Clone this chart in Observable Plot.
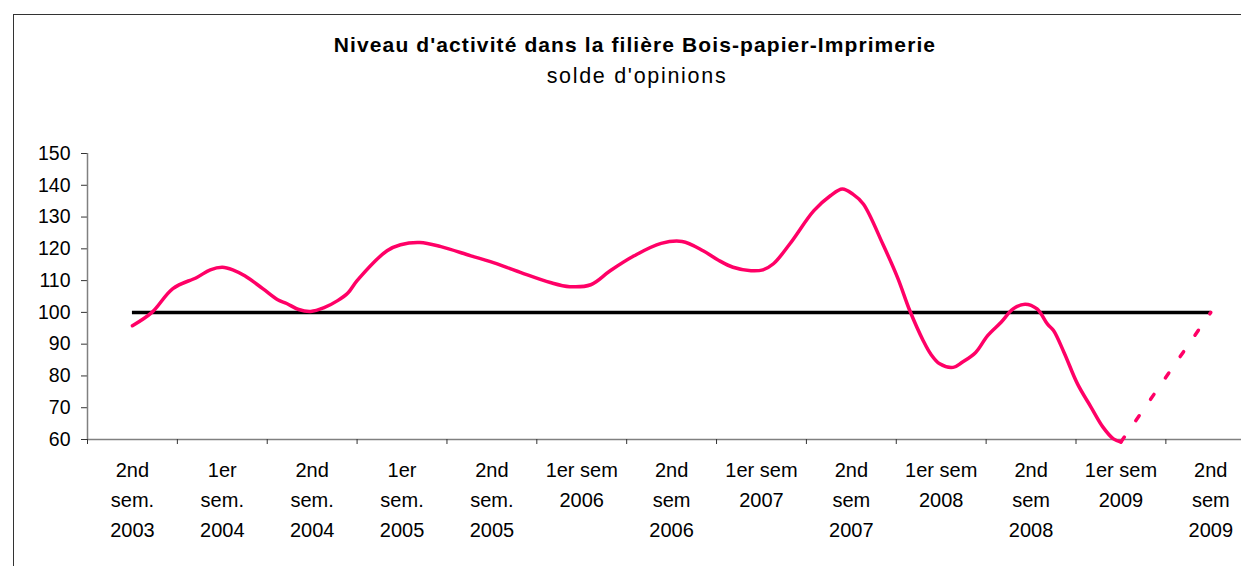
<!DOCTYPE html>
<html>
<head>
<meta charset="utf-8">
<script src="https://cdn.jsdelivr.net/npm/d3@7"></script>
<script src="https://cdn.jsdelivr.net/npm/@observablehq/plot@0.6"></script>
<style>
  html, body { margin: 0; padding: 0; background: #fff; overflow: hidden; }
  body { width: 1241px; height: 566px; position: relative; font-family: "Liberation Sans", Arial, sans-serif; }
  #frame { position: absolute; left: 13px; top: 14px; width: 1240px; height: 560px; border-left: 1px solid #333; border-top: 1px solid #333; }
  #title { position: absolute; left: 0; width: 1270px; top: 33px; text-align: center; font-weight: bold; font-size: 21px; letter-spacing: 1.1px; color: #000; }
  #subtitle { position: absolute; left: 0; width: 1274px; top: 64px; text-align: center; font-size: 21.5px; letter-spacing: 1.7px; color: #000; }
  #chart { position: absolute; left: 0; top: 0; }
</style>
</head>
<body>
<div id="frame"></div>
<div id="title">Niveau d'activité dans la filière Bois-papier-Imprimerie</div>
<div id="subtitle">solde d'opinions</div>
<div id="chart"></div>
<script>
// Categories (semesters); each semester spans 6 months, category centre = month index
const categoryLabels = [
  "2nd\nsem.\n2003", "1er\nsem.\n2004", "2nd\nsem.\n2004", "1er\nsem.\n2005",
  "2nd\nsem.\n2005", "1er sem\n2006", "2nd\nsem\n2006", "1er sem\n2007",
  "2nd\nsem\n2007", "1er sem\n2008", "2nd\nsem\n2008", "1er sem\n2009", "2nd\nsem\n2009"
];
const categoryMonths = [0, 6, 12, 18, 24, 30, 36, 42, 48, 54, 60, 66, 72];
const boundaryMonths = [-3, 3, 9, 15, 21, 27, 33, 39, 45, 51, 57, 63, 69];
const yTicks = [60, 70, 80, 90, 100, 110, 120, 130, 140, 150];
const referenceLevel = 100;

// Observed activity level (month offset from 2nd sem. 2003, value)
const obsMonths = [0, 1.3, 2.7, 4.3, 5.2, 6.0, 6.7, 7.5, 8.7, 9.7, 10.3, 11.1, 11.9, 12.8, 13.7, 14.4, 15.0, 17.0, 17.9,
  19.2, 20.6, 22.6, 23.9, 25.9, 27.9, 29.2, 30.6, 31.9, 33.5, 35.3, 36.7, 38.1, 39.1, 40.1, 41.3, 42.1, 42.8, 43.9,
  45.5, 46.6, 47.4, 48.1, 48.8, 50.1, 51.1, 51.9, 52.8, 53.3, 53.9, 54.8, 55.4, 56.3, 57.1, 58.0, 58.8, 59.6, 60.4,
  61.1, 61.5, 62.2, 63.1, 64.0, 64.8, 65.5, 66.0];
const obsValues = [95.8, 100, 107.5, 111, 113.4, 114.2, 113.4, 111.5, 107.5, 104, 102.8, 100.9, 100.3, 101.5, 103.7, 106.2, 110, 119.4, 121.3,
  122, 120.7, 117.8, 116, 112.6, 109.4, 108.1, 108.7, 113.1, 117.8, 121.7, 122.3, 119.4, 116.5, 114.2, 113.1, 113.4, 115.3, 121.6,
  132, 136.7, 138.8, 137.2, 134.1, 121.5, 110.8, 100.6, 91.1, 86.9, 83.8, 82.7, 84.3, 87.4, 92.7, 96.9, 101.1, 102.6, 101.1,
  96.3, 94.3, 87.4, 77.5, 70.2, 63.9, 60.2, 59.2];

// Forecast (dotted)
const forecastMonths = [66, 72];
const forecastValues = [59.2, 100];

const obs = obsMonths.map((m, i) => ({m, v: obsValues[i]}));
const fc = forecastMonths.map((m, i) => ({m, v: forecastValues[i]}));
const cats = categoryMonths.map((m, i) => ({m, label: categoryLabels[i]}));

const pink = "#FF0066";

const chart = Plot.plot({
  width: 1241,
  height: 566,
  marginLeft: 87,
  marginRight: 0,
  marginTop: 153,
  marginBottom: 127,
  style: {fontFamily: "'Liberation Sans', Arial, sans-serif", fontSize: "19px", color: "#000", background: "transparent"},
  x: {type: "linear", domain: [boundaryMonths[0], 74.05], axis: null, label: null},
  y: {type: "linear", domain: [yTicks[0], yTicks[yTicks.length - 1]], axis: null, label: null},
  marks: [
    // y axis
    Plot.axisY({ticks: yTicks, tickSize: 6, tickPadding: 11, tickFormat: d => d, fontSize: 19.5, stroke: "#333", label: null}),
    Plot.ruleX([boundaryMonths[0]], {stroke: "#808080", strokeWidth: 1.5}),
    // x axis line and tick marks
    Plot.ruleY([yTicks[0]], {stroke: "#808080", strokeWidth: 1.5}),
    Plot.axisX({ticks: boundaryMonths, tickSize: 5, tickFormat: () => "", stroke: "#333", label: null}),
    // category labels
    Plot.text(cats, {x: "m", text: "label", frameAnchor: "bottom", dy: 15.8, lineAnchor: "top", lineHeight: 1.5, fontSize: 20, fill: "#000", style: "letter-spacing:0.4px"}),
    // reference line at 100
    Plot.ruleY([referenceLevel], {x1: categoryMonths[0], x2: categoryMonths[categoryMonths.length - 1], stroke: "#000", strokeWidth: 3.5}),
    // observed series
    Plot.line(obs, {x: "m", y: "v", stroke: pink, strokeWidth: 3.5, curve: "catmull-rom"}),
    // forecast dotted
    Plot.line(fc, {x: "m", y: "v", stroke: pink, strokeWidth: 3.5, strokeDasharray: "6,20"})
  ]
});
document.getElementById("chart").appendChild(chart);
</script>
</body>
</html>
